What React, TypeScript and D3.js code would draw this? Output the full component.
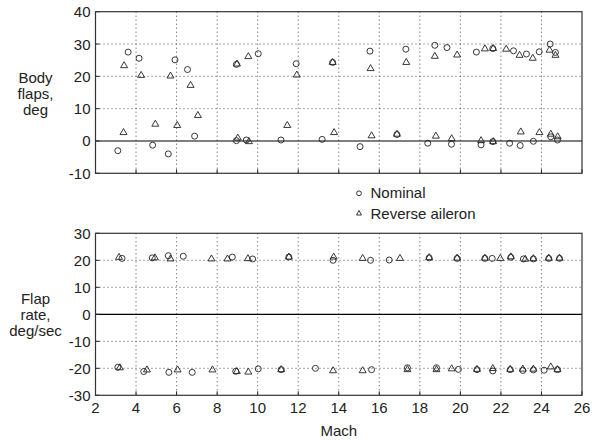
import React from "react";
import * as d3 from "d3";

// ---- data (Mach, value) ----
const nominalFlaps: [number, number][] = [
  [3.1, -3.0], [3.61, 27.5], [4.15, 25.6], [4.82, -1.3], [5.59, -4.0], [5.92, 25.1], [6.54, 22.1], [6.89, 1.5],
  [8.95, 23.7], [8.95, 0.1], [9.44, 0.3], [10.03, 27.0], [11.15, 0.3], [11.9, 23.9], [13.18, 0.5], [13.7, 24.3],
  [15.05, -1.75], [15.54, 27.8], [16.87, 2.0], [17.31, 28.4], [18.39, -0.7], [18.74, 29.6], [19.34, 28.9], [19.56, -1.0],
  [20.79, 27.5], [21.02, -1.2], [21.6, -0.2], [21.6, 28.6], [22.43, -0.7], [22.62, 27.9], [22.95, -1.4], [23.26, 26.9],
  [23.6, -0.1], [23.89, 27.6], [24.43, 30.0], [24.46, 1.3], [24.69, 27.4], [24.79, 0.3],
];
const reverseFlaps: [number, number][] = [
  [3.41, 23.3], [3.38, 2.6], [4.25, 20.3], [4.95, 5.2], [5.7, 20.1], [6.03, 4.8], [6.69, 17.2], [7.05, 7.9],
  [8.98, 23.8], [9.02, 0.9], [9.57, -0.2], [9.54, 26.1], [11.46, 4.8], [11.93, 20.4], [13.7, 24.3], [13.77, 2.6],
  [15.57, 22.4], [15.62, 1.6], [16.87, 2.1], [17.33, 24.3], [18.74, 26.2], [18.79, 1.5], [19.57, 0.7], [19.84, 26.6],
  [21.02, 0.1], [21.21, 28.5], [21.62, 28.6], [21.62, -0.2], [22.26, 28.4], [22.92, 26.5], [22.98, 2.8], [23.57, 25.6],
  [23.9, 2.6], [24.4, 28.1], [24.46, 2.1], [24.69, 26.5], [24.8, 1.3],
];
const nominalRate: [number, number][] = [
  [3.31, 20.7], [4.8, 20.9], [5.59, 21.7], [6.33, 21.5], [8.75, 21.2], [9.75, 20.5], [11.54, 21.2], [13.72, 20.0],
  [15.57, 20.0], [16.49, 20.1], [18.46, 20.9], [19.84, 20.7], [21.21, 20.7], [21.57, 20.7], [22.49, 21.1], [23.11, 20.5],
  [23.6, 20.5], [24.36, 20.7], [24.89, 20.7],
  [3.1, -19.6], [4.38, -21.2], [5.62, -21.5], [6.77, -21.5], [8.92, -21.1], [10.03, -20.2], [11.16, -20.5], [12.85, -20.0],
  [15.62, -20.5], [17.39, -19.8], [18.82, -19.8], [19.9, -20.4], [20.82, -20.5], [21.6, -21.0], [22.46, -20.5], [23.08, -20.8],
  [23.6, -20.6], [24.13, -20.7], [24.79, -20.5],
];
const reverseRate: [number, number][] = [
  [3.16, 21.1], [4.93, 20.9], [5.7, 20.5], [7.72, 20.5], [8.51, 20.5], [9.52, 20.6], [11.54, 21.2], [13.75, 21.2],
  [15.18, 20.7], [17.02, 20.7], [18.46, 21.0], [19.84, 20.8], [21.21, 20.8], [21.97, 20.7], [22.49, 21.3], [23.2, 20.4],
  [23.6, 20.6], [24.36, 20.8], [24.89, 20.8],
  [3.2, -19.8], [4.54, -20.6], [6.05, -20.6], [7.77, -20.6], [8.97, -21.2], [9.54, -21.4], [11.16, -20.5], [13.72, -20.9],
  [15.18, -20.9], [17.39, -20.5], [18.82, -20.5], [19.57, -20.2], [20.82, -20.4], [21.6, -20.1], [22.46, -20.4], [23.08, -20.3],
  [23.6, -20.3], [24.46, -19.5], [24.79, -20.5],
];
const machTicks = [2, 4, 6, 8, 10, 12, 14, 16, 18, 20, 22, 24, 26];
const flapTicks = [40, 30, 20, 10, 0, -10];
const rateTicks = [30, 20, 10, 0, -10, -20, -30];
const flapLabel = ["Body", "flaps,", "deg"];
const rateLabel = ["Flap", "rate,", "deg/sec"];
const legendLabels = ["Nominal", "Reverse aileron"];

const FONT = "'Liberation Sans', Arial, Helvetica, sans-serif";
const INK = "#222";

function tri(cx: number, cy: number, s: number, h: number) {
  return `M${cx},${cy - (2 * h) / 3}L${cx + s / 2},${cy + h / 3}L${cx - s / 2},${cy + h / 3}Z`;
}

function Panel({
  y0, y1, domain, ticks, nominal, reverse, label, labelBase, showX,
}: {
  y0: number; y1: number; domain: [number, number]; ticks: number[];
  nominal: [number, number][]; reverse: [number, number][]; label: string[]; labelBase: number; showX: boolean;
}) {
  const x = d3.scaleLinear().domain([2, 26]).range([95.5, 582]);
  const y = d3.scaleLinear().domain(domain).range([y1, y0]);
  const [xl, xr] = x.range();
  return (
    <g>
      {machTicks.slice(1, -1).map((t) => (
        <line key={"gx" + t} x1={x(t)} x2={x(t)} y1={y0} y2={y1} stroke={INK} strokeWidth={0.8} strokeDasharray="1,3" />
      ))}
      {ticks.filter((t) => t !== domain[0] && t !== domain[1] && t !== 0).map((t) => (
        <line key={"gy" + t} x1={xl} x2={xr} y1={y(t)} y2={y(t)} stroke={INK} strokeWidth={0.8} strokeDasharray="1,3" />
      ))}
      <line x1={xl} x2={xr} y1={y(0)} y2={y(0)} stroke="#000" strokeWidth={1.2} />
      {machTicks.map((t) => (
        <line key={"tx" + t} x1={x(t)} x2={x(t)} y1={y1} y2={y1 - 4} stroke={INK} strokeWidth={1} />
      ))}
      {ticks.map((t) => (
        <line key={"ty" + t} x1={xl} x2={xl + 4} y1={y(t)} y2={y(t)} stroke={INK} strokeWidth={1} />
      ))}
      <rect x={xl} y={y0} width={xr - xl} height={y1 - y0} fill="none" stroke="#333" strokeWidth={1.2} />
      {ticks.map((t) => (
        <text key={"ly" + t} x={xl - 5} y={y(t) + 5.5} textAnchor="end" fontSize={15} fill={INK} fontFamily={FONT}>
          {t}
        </text>
      ))}
      {showX &&
        machTicks.map((t) => (
          <text key={"lx" + t} x={x(t)} y={y1 + 18} textAnchor="middle" fontSize={15} fill={INK} fontFamily={FONT}>
            {t}
          </text>
        ))}
      {label.map((s, i) => (
        <text key={"lab" + i} x={35.5} y={labelBase + i * 15.8} textAnchor="middle" fontSize={15} fill={INK} fontFamily={FONT}>
          {s}
        </text>
      ))}
      {nominal.map(([m, v], i) => (
        <circle key={"n" + i} cx={x(m)} cy={y(v)} r={3} fill="none" stroke={INK} strokeWidth={0.9} />
      ))}
      {reverse.map(([m, v], i) => (
        <path key={"r" + i} d={tri(x(m), y(v), 7, 6)} fill="none" stroke={INK} strokeWidth={0.9} />
      ))}
    </g>
  );
}

export default function App() {
  return (
    <svg width={592} height={440} style={{ position: "absolute", left: 0, top: 0, background: "#fff" }}>
      <rect width={592} height={440} fill="#fff" />
      <Panel y0={11.7} y1={173.3} domain={[-10, 40]} ticks={flapTicks} nominal={nominalFlaps} reverse={reverseFlaps}
        label={flapLabel} labelBase={83} showX={false} />
      <Panel y0={233.3} y1={395.3} domain={[-30, 30]} ticks={rateTicks} nominal={nominalRate} reverse={reverseRate}
        label={rateLabel} labelBase={304} showX={true} />
      <text x={338.75} y={435.5} textAnchor="middle" fontSize={15} fill={INK} fontFamily={FONT}>Mach</text>
      <circle cx={359} cy={193.3} r={2.4} fill="none" stroke={INK} strokeWidth={0.9} />
      <text x={370.5} y={198.3} fontSize={15} fill={INK} fontFamily={FONT}>{legendLabels[0]}</text>
      <path d={tri(359, 213.5, 5, 4.5)} fill="none" stroke={INK} strokeWidth={0.9} />
      <text x={370.5} y={218.5} fontSize={15} fill={INK} fontFamily={FONT}>{legendLabels[1]}</text>
    </svg>
  );
}
